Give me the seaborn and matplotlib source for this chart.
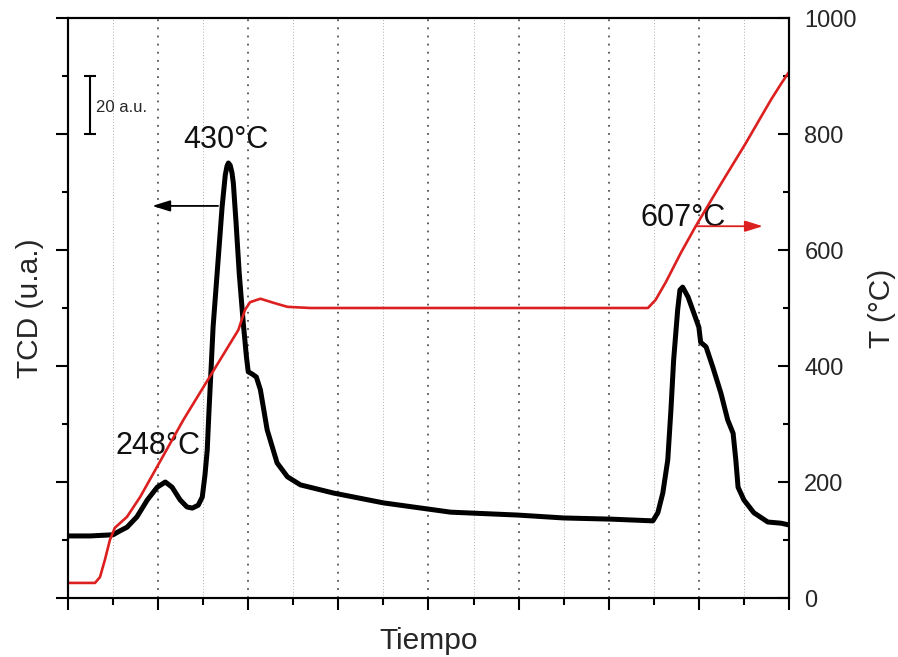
import numpy as np
import pandas as pd
import matplotlib
matplotlib.use("Agg")
import matplotlib.pyplot as plt
import seaborn as sns

# ---- data (time in arbitrary units, TCD in scale units of 20 a.u.) ----
tcd_time = [0.00, 0.49, 1.00, 1.16, 1.31, 1.53, 1.76, 1.98, 2.16, 2.31, 2.49, 2.64, 2.76, 2.89,
            2.98, 3.04, 3.09, 3.13, 3.18, 3.22, 3.31, 3.42, 3.49, 3.53, 3.56, 3.60, 3.64, 3.67,
            3.73, 3.80, 3.89, 3.96, 4.00, 4.09, 4.18, 4.27, 4.42, 4.64, 4.87, 5.16, 5.89, 7.00,
            8.49, 9.98, 11.00, 12.04, 12.98, 13.09, 13.20, 13.31, 13.38, 13.44, 13.53, 13.58,
            13.64, 13.76, 13.89, 14.00, 14.04, 14.16, 14.31, 14.49, 14.64, 14.76, 14.82, 14.87,
            15.00, 15.22, 15.53, 15.82, 16.00]
tcd_signal = [1.07, 1.07, 1.09, 1.16, 1.22, 1.40, 1.69, 1.91, 2.00, 1.91, 1.69, 1.57, 1.55, 1.60,
              1.74, 2.12, 2.55, 3.24, 4.02, 4.67, 5.60, 6.74, 7.29, 7.45, 7.50, 7.46, 7.33, 7.15,
              6.47, 5.60, 4.74, 4.16, 3.90, 3.86, 3.81, 3.59, 2.90, 2.33, 2.09, 1.95, 1.81, 1.64,
              1.48, 1.43, 1.38, 1.36, 1.33, 1.47, 1.81, 2.38, 3.24, 4.10, 4.97, 5.31,
              5.36, 5.19, 4.91, 4.67, 4.41, 4.33, 3.98, 3.53, 3.07, 2.84, 2.38, 1.91,
              1.69, 1.47, 1.31, 1.29, 1.26]

temp_time = [0.00, 0.60, 0.71, 0.82, 0.93, 1.04, 1.31, 1.60, 2.56, 3.78, 3.93, 4.04, 4.27, 4.56,
             4.87, 5.38, 12.87, 13.04, 13.27, 13.60, 13.93, 14.49, 15.04, 15.60, 15.82, 16.00]
temp_value = [26, 26, 36, 66, 100, 121, 140, 174, 307, 462, 497, 510, 516, 509,
              502, 500, 500, 514, 545, 595, 641, 714, 784, 859, 886, 907]

x_major = [0, 2, 4, 6, 8, 10, 12, 14, 16]
x_minor = [1, 3, 5, 7, 9, 11, 13, 15]
tcd_major = [0, 2, 4, 6, 8, 10]
tcd_minor = [1, 3, 5, 7, 9]
temp_major = [0, 200, 400, 600, 800, 1000]
temp_minor = [100, 300, 500, 700, 900]

peak_labels = ["248°C", "430°C", "607°C"]
peak_label_t = [2.0, 3.51, 13.64]
peak_label_v = [2.62, 7.90, 6.55]

# ---- style ----
sns.set_theme(style="ticks")
plt.rcParams['font.family'] = ['Liberation Sans', 'DejaVu Sans']
plt.rcParams['axes.linewidth'] = 1.5
plt.rcParams['axes.edgecolor'] = 'black'

RED = '#dc1f1f'

fig = plt.figure(figsize=(8.98, 6.57), dpi=100)
ax = fig.add_axes([0.0757, 0.0898, 0.8029, 0.8828])
ax2 = ax.twinx()

df_tcd = pd.DataFrame({"t": tcd_time, "v": tcd_signal})
df_temp = pd.DataFrame({"t": temp_time, "T": temp_value})

sns.lineplot(data=df_tcd, x="t", y="v", ax=ax, color='black', linewidth=3.6,
             estimator=None, sort=False)
sns.lineplot(data=df_temp, x="t", y="T", ax=ax2, color=RED, linewidth=1.9,
             estimator=None, sort=False)

ax.set_xlim(0, 16)
ax.set_ylim(0, 10)
ax2.set_ylim(0, 1000)

# ticks
ax.set_xticks(x_major)
ax.set_xticks(x_minor, minor=True)
ax.set_yticks(tcd_major)
ax.set_yticks(tcd_minor, minor=True)
ax.set_xticklabels([])
ax.set_yticklabels([])
ax.tick_params(axis='x', which='major', direction='out', length=8.5, width=1.5, color='black',
               top=False, bottom=True)
ax.tick_params(axis='x', which='minor', direction='out', length=5, width=1.5, color='black',
               top=False, bottom=True)
ax.tick_params(axis='y', which='major', direction='out', length=9, width=1.5, color='black',
               left=True, right=False)
ax.tick_params(axis='y', which='minor', direction='out', length=4.5, width=1.5, color='black',
               left=True, right=False)

ax2.set_yticks(temp_major)
ax2.set_yticks(temp_minor, minor=True)
ax2.set_yticklabels([str(v) for v in temp_major])
ax2.tick_params(axis='y', which='major', direction='in', length=8, width=1.5, color='black',
                labelsize=17, pad=11, right=True, left=False)
ax2.tick_params(axis='y', which='minor', direction='in', length=4.5, width=1.5, color='black',
                right=True, left=False)

# vertical dotted grid
for xv in x_major[1:-1]:
    ax.axvline(xv, color='#555555', lw=1.3, dashes=(1.0, 3.5), zorder=0)
for xv in x_minor:
    ax.axvline(xv, color='#b0b0b0', lw=0.7, dashes=(1.0, 2.0), zorder=0)

for sp in ax.spines.values():
    sp.set_linewidth(1.5)
    sp.set_color('black')
for sp in ax2.spines.values():
    sp.set_linewidth(1.5)
    sp.set_color('black')

# labels
ax.set_xlabel("Tiempo", fontsize=21.5)
ax.xaxis.set_label_coords(0.5, -0.05)
ax.set_ylabel("TCD (u.a.)", fontsize=21.5)
ax.yaxis.set_label_coords(-0.033, 0.5)
ax2.set_ylabel("T (°C)", fontsize=21.5)
ax2.yaxis.set_label_coords(1.11, 0.5)

# peak annotations
for lab, tx, vy in zip(peak_labels, peak_label_t, peak_label_v):
    ax.text(tx, vy, lab, ha='center', va='center', fontsize=22, color='#111111')

# scale bar
ax.errorbar(x=[0.49], y=[8.5], yerr=[0.5], color='black', lw=1.5, capsize=4, capthick=1.5)
ax.text(0.62, 8.45, "20 a.u.", fontsize=12, ha='left', va='center')

# arrows
ax.annotate('', xy=(1.87, 6.76), xytext=(3.33, 6.76),
            arrowprops=dict(arrowstyle='-|>,head_length=0.9,head_width=0.28', color='black',
                            lw=1.3, shrinkA=0, shrinkB=0))
ax.annotate('', xy=(15.42, 6.41), xytext=(13.93, 6.41),
            arrowprops=dict(arrowstyle='-|>,head_length=0.9,head_width=0.28', color=RED,
                            lw=1.3, shrinkA=0, shrinkB=0))

ax.set_zorder(ax2.get_zorder() - 1)
ax.patch.set_visible(True)
ax2.patch.set_visible(False)

fig.savefig("out.png", dpi=100)
